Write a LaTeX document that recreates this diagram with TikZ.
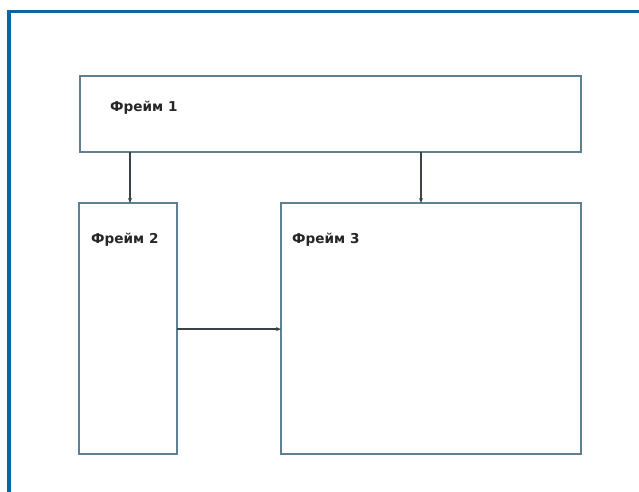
\documentclass[tikz,border=0pt]{standalone}
\usepackage{fontspec}
\setmainfont{DejaVu Sans}
\usetikzlibrary{arrows.meta}
\definecolor{outerblue}{HTML}{0A67A0}
\definecolor{boxline}{HTML}{5E8090}
\definecolor{arrowc}{HTML}{3A4348}
\tikzset{
  framebox/.style={draw=boxline, line width=1.6pt, fill=white, inner sep=0pt, outer sep=0pt},
  flabel/.style={anchor=west, font=\bfseries\fontsize{13.6}{15}\selectfont, text=black!85, inner sep=0pt},
  link/.style={draw=arrowc, line width=1.3pt, -{Stealth[length=5pt,width=4pt]}}
}
\begin{document}
\begin{tikzpicture}[x=1pt,y=-1pt]
\useasboundingbox (0,0) rectangle (639,491);
\fill[white] (0,0) rectangle (639,491);
% outer border (open on right and bottom)
\draw[outerblue, line width=3.8pt] (9,495) -- (9,11.5) -- (645,11.5);
% frames
\node[framebox, minimum width=501pt, minimum height=76pt] (f1) at (330.5,114) {};
\node[framebox, minimum width=98pt, minimum height=251pt] (f2) at (128,328.5) {};
\node[framebox, minimum width=300pt, minimum height=251pt] (f3) at (431,328.5) {};
\node[flabel] (t1) at (110,108) {Фрейм 1};
\node[flabel] (t2) at (91,240) {Фрейм 2};
\node[flabel] (t3) at (292,240) {Фрейм 3};
\draw[link] (f1.south -| f2.north) ++(2,0) coordinate (a1) -- (a1 |- f2.north);
\draw[link] ([xshift=-10pt]f1.south -| f3.north) coordinate (a2) -- (a2 |- f3.north);
\draw[link] ([yshift=-0.6pt]f2.east) coordinate (a3) -- (a3 -| f3.west);
\end{tikzpicture}
\end{document}
